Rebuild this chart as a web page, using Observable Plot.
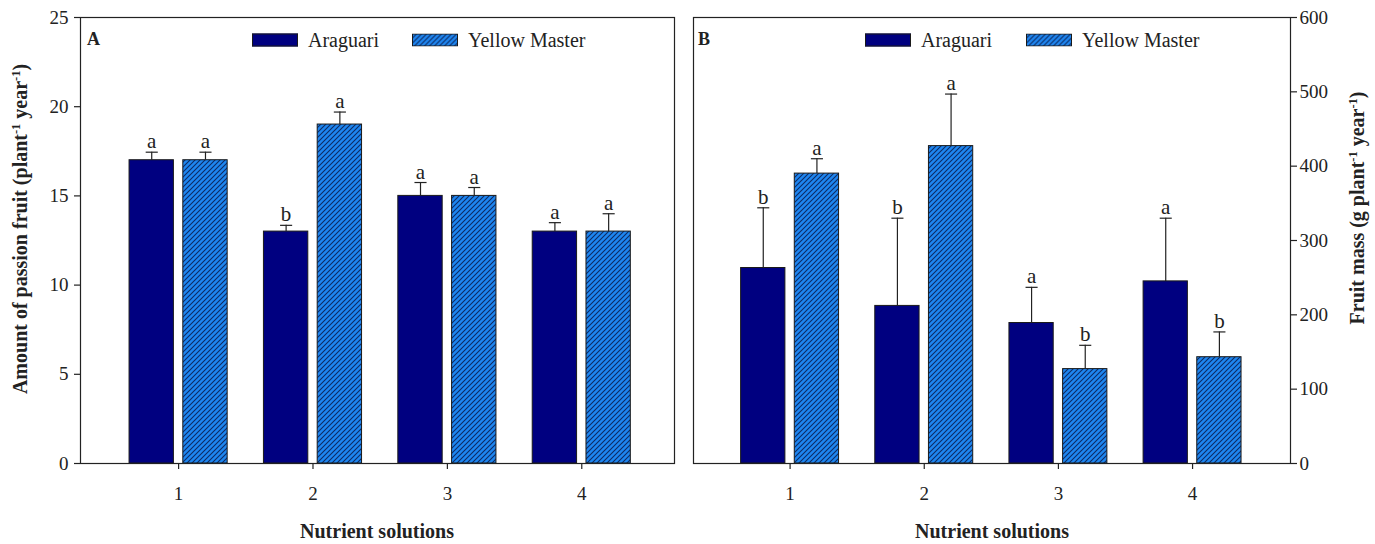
<!DOCTYPE html>
<html>
<head>
<meta charset="utf-8">
<script src="https://cdn.jsdelivr.net/npm/d3@7"></script>
<script src="https://cdn.jsdelivr.net/npm/@observablehq/plot@0.6"></script>
<style>
  body { margin: 0; background: #fff; font-family: "Liberation Serif", "Times New Roman", serif; color: #222; }
  #wrap { position: relative; width: 1375px; height: 544px; overflow: hidden; }
  .panel { position: absolute; top: 0; }
  .t { position: absolute; white-space: nowrap; line-height: 1; }
  .b { font-weight: bold; }
  .rot { transform: translate(-50%, -50%) rotate(-90deg); font-size: 20px; font-weight: bold; }
  .sup { font-size: 0.62em; position: relative; top: -0.55em; }
  .leg { position: absolute; font-size: 20px; line-height: 1; white-space: nowrap; transform: translateY(-50%); }
  .sw { position: absolute; width: 46px; height: 13px; transform: translateY(-50%); box-sizing: border-box; border: 1px solid #1a1a1a; }
</style>
</head>
<body>
<svg width="0" height="0" style="position:absolute">
  <defs>
    <pattern id="hatch" patternUnits="userSpaceOnUse" width="5" height="5">
      <rect width="5" height="5" fill="#1e86f0"></rect>
      <path d="M0,5 L5,0 M-1,1 L1,-1 M4,6 L6,4" stroke="#0c2a64" stroke-width="1.1"></path>
    </pattern>
  </defs>
</svg>
<div id="wrap"></div>
<script>
// ---------- data ----------
const solutions = [1, 2, 3, 4];
const cultivars = ["Araguari", "Yellow Master"];

// Panel A: amount of passion fruit (plant-1 year-1)
const countAraguari        = [17, 13, 15, 13];
const countAraguariErr     = [0.45, 0.35, 0.75, 0.5];
const countAraguariLetters = ["a", "b", "a", "a"];
const countYellow          = [17, 19, 15, 13];
const countYellowErr       = [0.45, 0.7, 0.47, 1.0];
const countYellowLetters   = ["a", "a", "a", "a"];
const countTicks           = [0, 5, 10, 15, 20, 25];

// Panel B: fruit mass (g plant-1 year-1)
const massAraguari         = [263, 212, 189, 245];
const massAraguariErr      = [81, 118, 48, 85];
const massAraguariLetters  = ["b", "b", "a", "a"];
const massYellow           = [390, 427, 127, 143];
const massYellowErr        = [20, 70, 32, 34];
const massYellowLetters    = ["a", "a", "b", "b"];
const massTicks            = [0, 100, 200, 300, 400, 500, 600];

// ---------- build tables ----------
function table(vA, eA, lA, vY, eY, lY) {
  return solutions.flatMap((s, i) => [
    {s, cultivar: cultivars[0], value: vA[i], top: vA[i] + eA[i], letter: lA[i]},
    {s, cultivar: cultivars[1], value: vY[i], top: vY[i] + eY[i], letter: lY[i]}
  ]);
}
const rowsA = table(countAraguari, countAraguariErr, countAraguariLetters, countYellow, countYellowErr, countYellowLetters);
const rowsB = table(massAraguari, massAraguariErr, massAraguariLetters, massYellow, massYellowErr, massYellowLetters);

const OFF = 0.2, HALF = 0.165, CAP = 0.045;
const cx = d => d.s + (d.cultivar === cultivars[0] ? -OFF : OFF);

function panel({rows, width, marginLeft, marginRight, xDomain, yDomain, yTicks, anchor, tickPadding}) {
  const fillA = "#000080", fillY = "url(#hatch)";
  return Plot.plot({
    width, height: 544,
    marginLeft, marginRight, marginTop: 17, marginBottom: 81,
    style: {fontFamily: "Liberation Serif, Times New Roman, serif", fontSize: "19px", color: "#222", background: "transparent", overflow: "visible"},
    x: {type: "linear", domain: xDomain, axis: null},
    y: {domain: yDomain, axis: null},
    marks: [
      Plot.rect(rows.filter(d => d.cultivar === cultivars[0]), {
        x1: d => cx(d) - HALF, x2: d => cx(d) + HALF, y1: 0, y2: "value",
        fill: fillA, stroke: "#1a1a1a", strokeWidth: 1
      }),
      Plot.rect(rows.filter(d => d.cultivar === cultivars[1]), {
        x1: d => cx(d) - HALF, x2: d => cx(d) + HALF, y1: 0, y2: "value",
        fill: fillY, stroke: "#1a1a1a", strokeWidth: 1
      }),
      Plot.ruleX(rows, {x: cx, y1: "value", y2: "top", stroke: "#222", strokeWidth: 1.2}),
      Plot.link(rows, {x1: d => cx(d) - CAP, x2: d => cx(d) + CAP, y1: "top", y2: "top", stroke: "#222", strokeWidth: 1.2}),
      Plot.text(rows, {x: cx, y: "top", text: "letter", lineAnchor: "bottom", dy: -4, fontSize: 21, fill: "#222"}),
      Plot.frame({stroke: "#222", strokeWidth: 1.2}),
      Plot.axisY({anchor, ticks: yTicks, tickSize: 6, tickPadding, label: null, tickFormat: d => String(d), strokeWidth: 1.2}),
      Plot.axisX({anchor: "bottom", ticks: solutions, tickSize: 6, tickPadding: 17, label: null, tickFormat: d => String(d), strokeWidth: 1.2})
    ]
  });
}

const wrap = document.getElementById("wrap");

const plotA = panel({rows: rowsA, width: 687, marginLeft: 80, marginRight: 13, xDomain: [0.27, 4.69], yDomain: [0, 25], yTicks: countTicks, anchor: "left", tickPadding: 6});
plotA.classList.add("panel"); plotA.style.left = "0px";
wrap.appendChild(plotA);

const plotB = panel({rows: rowsB, width: 688, marginLeft: 6, marginRight: 85, xDomain: [0.28, 4.73], yDomain: [0, 600], yTicks: massTicks, anchor: "right", tickPadding: 3});
plotB.classList.add("panel"); plotB.style.left = "687px";
wrap.appendChild(plotB);

// ---------- overlay texts ----------
function add(html, cls, style) {
  const el = document.createElement("div");
  el.className = cls;
  el.innerHTML = html;
  Object.assign(el.style, style);
  wrap.appendChild(el);
  return el;
}
const sup = s => `<span class="sup">${s}</span>`;

add("A", "t b", {left: "87px", top: "30px", fontSize: "18px"});
add("B", "t b", {left: "698px", top: "30px", fontSize: "18px"});

add(`Amount of passion fruit (plant${sup("-1")} year${sup("-1")})`, "t rot", {left: "20px", top: "229px"});
add(`Fruit mass (g plant${sup("-1")} year${sup("-1")})`, "t rot", {left: "1357px", top: "208px"});

add("Nutrient solutions", "t b", {left: "377px", top: "531px", fontSize: "20px", transform: "translate(-50%,-50%)"});
add("Nutrient solutions", "t b", {left: "992px", top: "531px", fontSize: "20px", transform: "translate(-50%,-50%)"});

// legends
function legend(x0, x1) {
  const y = "40px";
  add("", "sw", {left: x0 + "px", top: y, background: "#000080"});
  add(cultivars[0], "leg", {left: (x0 + 56) + "px", top: y});
  add(`<svg width="46" height="13" style="display:block"><rect x="0.5" y="0.5" width="45" height="12" fill="url(#hatch)" stroke="#1a1a1a" stroke-width="1"></rect></svg>`, "sw", {left: x1 + "px", top: y, border: "none"});
  add(cultivars[1], "leg", {left: (x1 + 56) + "px", top: y});
}
legend(252, 412);
legend(865, 1026);
</script>
</body>
</html>
